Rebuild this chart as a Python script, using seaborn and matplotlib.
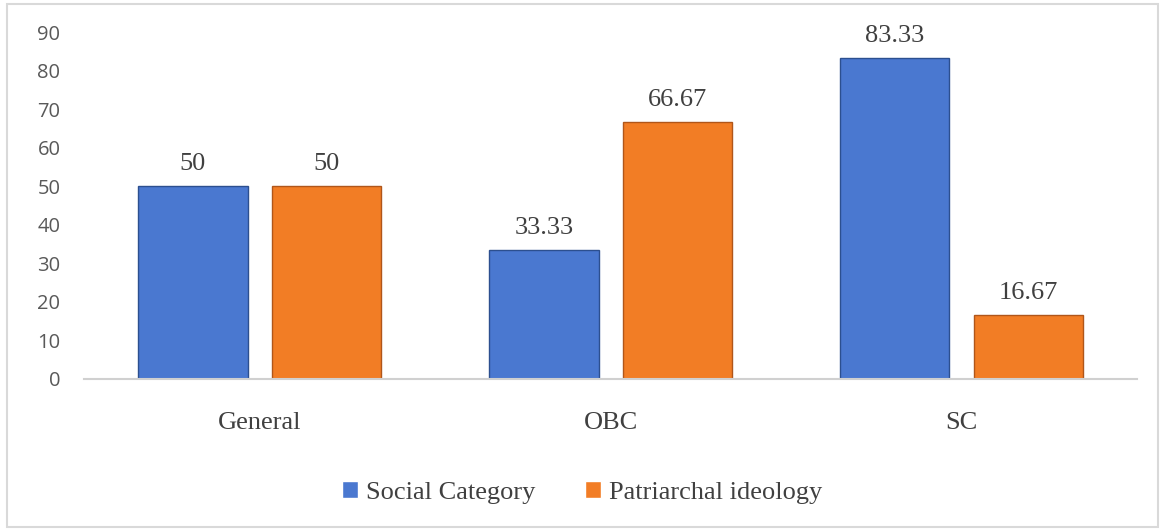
import matplotlib
matplotlib.use("Agg")
import matplotlib.pyplot as plt
import pandas as pd
import seaborn as sns
from matplotlib.patches import Rectangle

categories = ["General", "OBC", "SC"]
social_category = [50, 33.33, 83.33]
patriarchal_ideology = [50, 66.67, 16.67]
series_names = ["Social Category", "Patriarchal ideology"]
y_ticks = [0, 10, 20, 30, 40, 50, 60, 70, 80, 90]

df = pd.DataFrame({
    "category": categories * 2,
    "value": social_category + patriarchal_ideology,
    "series": [series_names[0]] * 3 + [series_names[1]] * 3,
})

sns.set_style("white")
plt.rcParams["font.family"] = ["Liberation Serif", "DejaVu Serif"]

fig = plt.figure(figsize=(11.64, 5.31), dpi=100)
ax = fig.add_axes([0.0722, 0.2863, 0.9046, 0.6534])

palette = {series_names[0]: "#4a78d0", series_names[1]: "#f27d25"}
edge = {series_names[0]: "#2c4f8f", series_names[1]: "#b0561a"}
sns.barplot(data=df, x="category", y="value", hue="series", palette=palette,
            width=0.76, gap=0.18, saturation=1, ax=ax, legend=True)

for cont, name in zip(ax.containers, series_names):
    for p in cont:
        p.set_edgecolor(edge[name])
        p.set_linewidth(1.0)
    ax.bar_label(cont, fmt="%g", padding=8, fontsize=19, color="#404040")

ax.set_ylim(0, 90)
ax.set_yticks(y_ticks)
ax.set_yticklabels([str(t) for t in y_ticks], family="Open Sans", fontsize=14.5,
                   color="#595959")
ax.tick_params(axis="y", length=0, pad=17)
ax.tick_params(axis="x", length=0, pad=24, labelsize=19, labelcolor="#404040")
ax.set_xlabel("")
ax.set_ylabel("")
for s in ["top", "right", "left"]:
    ax.spines[s].set_visible(False)
ax.spines["bottom"].set_color("#d0d0d0")
ax.spines["bottom"].set_linewidth(1.5)

ax.legend(loc="center", bbox_to_anchor=(0.5, 0.072), bbox_transform=fig.transFigure,
          ncol=2, frameon=False, fontsize=19, handlelength=0.6, handleheight=0.6,
          handletextpad=0.3, columnspacing=1.9, labelcolor="#404040")

fig.patches.append(Rectangle((7 / 1164, 4 / 531), 1151 / 1164, 523 / 531,
                             transform=fig.transFigure, fill=False,
                             edgecolor="#d9d9d9", linewidth=1.5))

fig.savefig("out.png", dpi=100)
